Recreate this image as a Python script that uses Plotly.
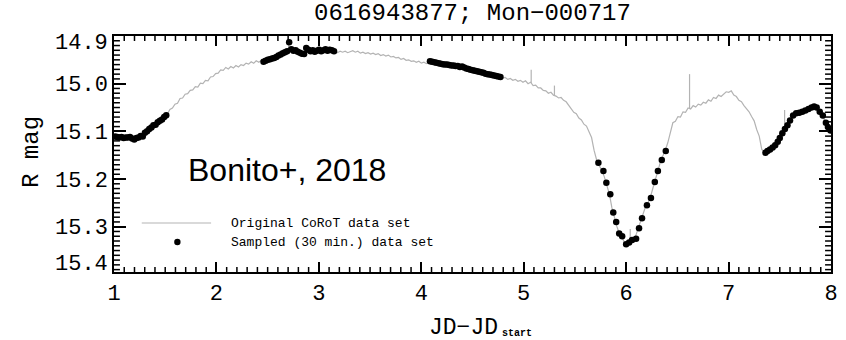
import numpy as np
import plotly.graph_objects as go

# CoRoT light curve of Mon-000717, binned to a regular cadence (days)
CADENCE = 0.0248
corot_mag = [
    15.111, 15.112, 15.113, 15.113, 15.114, 15.113, 15.114, 15.116, 15.117, 15.115,
    15.113, 15.110, 15.104, 15.099, 15.094, 15.090, 15.087, 15.083, 15.079, 15.074,
    15.068, 15.064, 15.054, 15.051, 15.043, 15.041, 15.031, 15.030, 15.022, 15.021,
    15.014, 15.013, 15.006, 15.007, 14.999, 15.000, 14.993, 14.994, 14.986, 14.985,
    14.979, 14.978, 14.971, 14.972, 14.966, 14.969, 14.964, 14.967, 14.962, 14.965,
    14.960, 14.962, 14.957, 14.959, 14.954, 14.957, 14.952, 14.955, 14.951, 14.953,
    14.950, 14.948, 14.946, 14.944, 14.941, 14.938, 14.936, 14.934, 14.932, 14.930,
    14.929, 14.931, 14.932, 14.934, 14.936, 14.933, 14.930, 14.931, 14.932, 14.931,
    14.930, 14.931, 14.929, 14.930, 14.931, 14.930, 14.931, 14.933, 14.935, 14.932,
    14.934, 14.932, 14.935, 14.933, 14.931, 14.934, 14.932, 14.936, 14.934, 14.937,
    14.935, 14.938, 14.936, 14.939, 14.937, 14.941, 14.939, 14.942, 14.940, 14.944,
    14.943, 14.946, 14.945, 14.949, 14.947, 14.951, 14.950, 14.953, 14.952, 14.955,
    14.953, 14.957, 14.955, 14.958, 14.954, 14.955, 14.956, 14.957, 14.958, 14.959,
    14.960, 14.960, 14.961, 14.962, 14.962, 14.963, 14.964, 14.965, 14.966, 14.968,
    14.970, 14.972, 14.973, 14.975, 14.976, 14.977, 14.979, 14.981, 14.982, 14.983,
    14.984, 14.985, 14.986, 14.988, 14.987, 14.991, 14.989, 14.993, 14.991, 14.995,
    14.993, 14.997, 14.994, 15.000, 14.997, 15.004, 15.003, 15.009, 15.009, 15.014,
    15.015, 15.020, 15.018, 15.024, 15.026, 15.030, 15.029, 15.035, 15.038, 15.045,
    15.052, 15.060, 15.063, 15.072, 15.076, 15.085, 15.089, 15.100, 15.113, 15.140,
    15.160, 15.172, 15.181, 15.195, 15.214, 15.231, 15.260, 15.282, 15.300, 15.315,
    15.322, 15.334, 15.336, 15.331, 15.327, 15.325, 15.310, 15.296, 15.278, 15.262,
    15.252, 15.241, 15.222, 15.203, 15.181, 15.166, 15.152, 15.140, 15.124, 15.100,
    15.082, 15.079, 15.069, 15.070, 15.059, 15.060, 15.051, 15.053, 15.046, 15.049,
    15.043, 15.045, 15.039, 15.041, 15.034, 15.037, 15.029, 15.031, 15.024, 15.027,
    15.021, 15.017, 15.018, 15.015, 15.024, 15.027, 15.035, 15.038, 15.046, 15.052,
    15.059, 15.069, 15.078, 15.096, 15.110, 15.138, 15.143, 15.140, 15.136, 15.132,
    15.126, 15.119, 15.108, 15.099, 15.093, 15.085, 15.076, 15.068, 15.063, 15.061,
    15.060, 15.059, 15.057, 15.054, 15.052, 15.049, 15.048, 15.050, 15.058, 15.066,
    15.082, 15.093, 15.100,
]
corot_t = 1.0 + CADENCE * np.arange(len(corot_mag))

# Single-exposure outliers in the CoRoT series (time, brightest magnitude)
spike_t = [2.705, 5.073, 5.300, 6.040, 6.619, 7.547]
spike_top = [14.914, 14.971, 15.004, 15.305, 14.980, 15.055]

# 30-minute sampled subsets
sample_t = [
    1.010, 1.031, 1.052, 1.073, 1.094, 1.115, 1.135, 1.156, 1.177, 1.198,
    1.219, 1.240, 1.260, 1.281, 1.302, 1.323, 1.344, 1.365, 1.385, 1.406,
    1.427, 1.448, 1.469, 1.490, 1.510,
    2.460, 2.481, 2.502, 2.523, 2.544, 2.564, 2.585, 2.606, 2.627, 2.648,
    2.669, 2.690, 2.710, 2.731, 2.752, 2.773, 2.794, 2.815, 2.835, 2.856,
    2.877, 2.898, 2.919, 2.940, 2.960, 2.981, 3.002, 3.023, 3.044, 3.065,
    3.085, 3.106, 3.127, 3.148,
    4.085, 4.106, 4.127, 4.148, 4.169, 4.190, 4.210, 4.231, 4.252, 4.273,
    4.294, 4.315, 4.335, 4.356, 4.377, 4.398, 4.419, 4.440, 4.460, 4.481,
    4.502, 4.523, 4.544, 4.565, 4.585, 4.606, 4.627, 4.648, 4.669, 4.690,
    4.710, 4.731, 4.752, 4.773,
    5.729, 5.778, 5.807, 5.845, 5.874, 5.903, 5.932, 5.961, 6.000, 6.029,
    6.058, 6.097, 6.126, 6.155, 6.203, 6.242, 6.280, 6.310, 6.348, 6.387,
    7.360, 7.380, 7.405, 7.430, 7.455, 7.480, 7.500, 7.525, 7.550, 7.575,
    7.600, 7.630, 7.660, 7.690, 7.720, 7.750, 7.780, 7.810, 7.835, 7.860,
    7.890, 7.920, 7.950, 7.970, 7.995,
]
sample_mag = [
    15.111, 15.112, 15.113, 15.112, 15.114, 15.113, 15.113, 15.112, 15.115, 15.117,
    15.114, 15.113, 15.110, 15.111, 15.103, 15.100, 15.095, 15.092, 15.087, 15.086,
    15.081, 15.078, 15.075, 15.070, 15.066,
    14.954, 14.952, 14.950, 14.949, 14.947, 14.946, 14.944, 14.941, 14.939, 14.936,
    14.934, 14.932, 14.913, 14.928, 14.931, 14.930, 14.933, 14.935, 14.937, 14.938,
    14.925, 14.929, 14.932, 14.930, 14.933, 14.931, 14.929, 14.932, 14.930, 14.928,
    14.931, 14.929, 14.930, 14.932,
    14.953, 14.954, 14.955, 14.956, 14.957, 14.958, 14.959, 14.960, 14.960, 14.961,
    14.962, 14.962, 14.963, 14.963, 14.965, 14.964, 14.966, 14.968, 14.969, 14.971,
    14.972, 14.973, 14.974, 14.975, 14.976, 14.977, 14.979, 14.980, 14.981, 14.982,
    14.983, 14.984, 14.985, 14.986,
    15.166, 15.183, 15.208, 15.232, 15.270, 15.290, 15.314, 15.320, 15.337, 15.333,
    15.328, 15.325, 15.303, 15.282, 15.255, 15.240, 15.206, 15.183, 15.160, 15.141,
    15.145, 15.141, 15.138, 15.134, 15.129, 15.122, 15.114, 15.104, 15.095, 15.087,
    15.077, 15.067, 15.062, 15.061, 15.059, 15.056, 15.053, 15.050, 15.048, 15.050,
    15.059, 15.067, 15.082, 15.091, 15.098,
]

x_ticks = [1, 2, 3, 4, 5, 6, 7, 8]
y_ticks = [14.9, 15.0, 15.1, 15.2, 15.3]
y_ticklabels = ["", "15.0", "15.1", "15.2", "15.3"]
y_edge_labels = ["14.9", "15.4"]

X_RANGE = [1.0, 8.0]
Y_RANGE = [15.395, 14.9]

# minor tick positions: every 0.1 d in time, every 0.01 mag in brightness
x_minor = [round(1.0 + 0.1 * k, 2) for k in range(71) if k % 10]
y_minor = [round(14.9 + 0.01 * k, 3) for k in range(50) if k % 10]

FONT = "Liberation Mono"
GRAY = "#b3b3b3"

W, H = 846, 340
MARGIN = dict(l=114, r=8, t=36, b=68)
plot_w = W - MARGIN["l"] - MARGIN["r"]
plot_h = H - MARGIN["t"] - MARGIN["b"]
# convert tick stub lengths from pixels to data units
days_per_px = (X_RANGE[1] - X_RANGE[0]) / plot_w
mag_per_px = (Y_RANGE[0] - Y_RANGE[1]) / plot_h

fig = go.Figure()

fig.add_trace(go.Scatter(
    x=corot_t, y=corot_mag, mode="lines",
    line=dict(color=GRAY, width=1.2), hoverinfo="skip", showlegend=False,
))

spike_base = np.interp(spike_t, corot_t, corot_mag)
sx, sy = [], []
for t, lo, hi in zip(spike_t, spike_base, spike_top):
    sx += [t, t, None]
    sy += [lo, hi, None]
fig.add_trace(go.Scatter(
    x=sx, y=sy, mode="lines",
    line=dict(color=GRAY, width=1.2), hoverinfo="skip", showlegend=False,
))

fig.add_trace(go.Scatter(
    x=sample_t, y=sample_mag, mode="markers",
    marker=dict(color="black", size=6.5, line=dict(width=0)),
    showlegend=False,
))

# minor tick stubs on all four sides of the frame
mx, my = [], []
x_stub = 5 * mag_per_px
for xv in x_minor:
    mx += [xv, xv, None, xv, xv, None]
    my += [Y_RANGE[0], Y_RANGE[0] - x_stub, None, Y_RANGE[1], Y_RANGE[1] + x_stub, None]
y_stub = 6 * days_per_px
for yv in y_minor:
    mx += [X_RANGE[0], X_RANGE[0] + y_stub, None, X_RANGE[1], X_RANGE[1] - y_stub, None]
    my += [yv, yv, None, yv, yv, None]
fig.add_trace(go.Scatter(
    x=mx, y=my, mode="lines", line=dict(color="black", width=1.5),
    hoverinfo="skip", showlegend=False, cliponaxis=False,
))

fig.update_layout(
    xaxis=dict(
        range=X_RANGE, tickmode="array", tickvals=x_ticks,
        ticktext=[str(v) for v in x_ticks],
        ticks="inside", ticklen=10, tickwidth=1.5, tickcolor="black",
        showline=True, linecolor="black", linewidth=1.5, mirror="ticks",
        showgrid=False, zeroline=False,
        tickfont=dict(family=FONT, size=22, color="black"),
    ),
    yaxis=dict(
        range=Y_RANGE, tickmode="array", tickvals=y_ticks, ticktext=y_ticklabels,
        ticks="inside", ticklen=12, tickwidth=1.5, tickcolor="black",
        showline=True, linecolor="black", linewidth=1.5, mirror="ticks",
        showgrid=False, zeroline=False,
        tickfont=dict(family=FONT, size=22, color="black"),
    ),
)

# legend keys
shapes = [
    dict(type="line", xref="paper", yref="paper", x0=0.0387, x1=0.1354,
         y0=0.2076, y1=0.2076, line=dict(color=GRAY, width=1.2)),
    dict(type="circle", xref="paper", yref="paper", xsizemode="pixel",
         ysizemode="pixel", xanchor=0.0884, yanchor=0.1271,
         x0=-3.2, x1=3.2, y0=-3.2, y1=3.2,
         fillcolor="black", line=dict(width=0)),
]

annotations = [
    dict(text="0616943877; Mon\u2212000717", x=0.5, y=1.097, xref="paper", yref="paper",
         xanchor="center", yanchor="middle", showarrow=False,
         font=dict(family=FONT, size=24, color="black")),
    dict(text="R mag", x=-0.116, y=0.508, xref="paper", yref="paper", textangle=-90,
         xanchor="center", yanchor="middle", showarrow=False,
         font=dict(family=FONT, size=24, color="black")),
    dict(text="JD\u2212JD", x=0.539, y=-0.238, xref="paper", yref="paper",
         xanchor="right", yanchor="middle", showarrow=False,
         font=dict(family=FONT, size=23, color="black")),
    dict(text="<b>start</b>", x=0.539, y=-0.262, xref="paper", yref="paper",
         xanchor="left", yanchor="middle", showarrow=False,
         font=dict(family=FONT, size=10, color="black")),
    dict(text="Bonito+, 2018", x=0.1008, y=0.432, xref="paper", yref="paper",
         xanchor="left", yanchor="middle", showarrow=False,
         font=dict(family="Liberation Sans", size=32, color="black")),
    dict(text="Original CoRoT data set", x=0.1602, y=0.2076, xref="paper",
         yref="paper", xanchor="left", yanchor="middle", showarrow=False,
         font=dict(family=FONT, size=13, color="black")),
    dict(text="Sampled (30 min.) data set", x=0.1602, y=0.1271, xref="paper",
         yref="paper", xanchor="left", yanchor="middle", showarrow=False,
         font=dict(family=FONT, size=13, color="black")),
]
# end labels of the magnitude axis sit just inside the frame
for lab, ypos in zip(y_edge_labels, [0.97, 0.03]):
    annotations.append(dict(
        text=lab, x=0, y=ypos, xref="paper", yref="paper", xanchor="right",
        yanchor="middle", xshift=-4, showarrow=False,
        font=dict(family=FONT, size=22, color="black")))

fig.update_layout(
    width=W, height=H,
    margin=MARGIN,
    paper_bgcolor="white", plot_bgcolor="white",
    annotations=annotations, shapes=shapes,
    showlegend=False,
)

fig.write_html("out.html")
